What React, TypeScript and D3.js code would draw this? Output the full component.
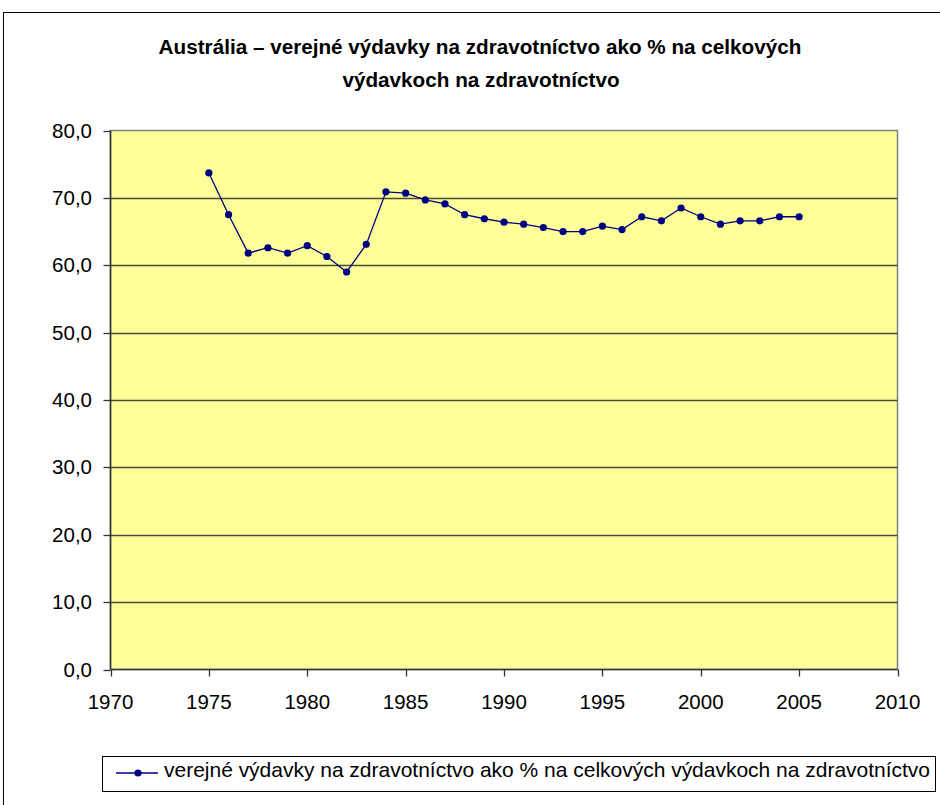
import React from "react";
import * as d3 from "d3";

const years = [1975, 1976, 1977, 1978, 1979, 1980, 1981, 1982, 1983, 1984, 1985, 1986, 1987, 1988, 1989, 1990, 1991, 1992, 1993, 1994, 1995, 1996, 1997, 1998, 1999, 2000, 2001, 2002, 2003, 2004, 2005];
const values = [73.7, 67.5, 61.8, 62.6, 61.8, 62.9, 61.3, 59.0, 63.1, 70.9, 70.7, 69.7, 69.1, 67.5, 66.9, 66.4, 66.1, 65.6, 65.0, 65.0, 65.8, 65.3, 67.2, 66.6, 68.5, 67.2, 66.1, 66.6, 66.6, 67.2, 67.2];
const yTicks = [0, 10, 20, 30, 40, 50, 60, 70, 80];
const xTicks = [1970, 1975, 1980, 1985, 1990, 1995, 2000, 2005, 2010];
const titleLines = ["Austrália – verejné výdavky na zdravotníctvo ako % na celkových", "výdavkoch na zdravotníctvo"];
const seriesName = "verejné výdavky na zdravotníctvo ako % na celkových výdavkoch na zdravotníctvo";

const FONT = "'Liberation Sans', Arial, Helvetica, sans-serif";

export default function App() {
  const left = 110.5, right = 897.5, top = 130.5, bottom = 669.5;
  const x = d3.scaleLinear().domain([1970, 2010]).range([left, right]);
  const y = d3.scaleLinear().domain([0, 80]).range([bottom, top]);
  const fmt = (v: number) => v.toFixed(1).replace(".", ",");
  const line = d3.line<number>().x((_, i) => x(years[i])).y((d) => y(d));
  const pts = values.map((v, i) => ({ cx: x(years[i]), cy: y(v) }));

  return (
    <svg width={940} height={805} style={{ position: "absolute", left: 0, top: 0, background: "#fff" }} fontFamily={FONT}>
      <rect x={0} y={0} width={940} height={805} fill="#fff" />
      {/* outer chart frame */}
      <rect x={3.5} y={12.5} width={960} height={820} fill="none" stroke="#000" strokeWidth={1} />
      {/* title */}
      <text x={480} y={53.5} textAnchor="middle" fontWeight="bold" fontSize={20.7} fill="#000">{titleLines[0]}</text>
      <text x={481} y={86.5} textAnchor="middle" fontWeight="bold" fontSize={20.7} fill="#000">{titleLines[1]}</text>
      {/* plot area */}
      <rect x={left} y={top} width={right - left} height={bottom - top} fill="#FFFF99" stroke="#808080" strokeWidth={1.5} />
      {yTicks.filter((t) => t !== 0 && t !== 80).map((t) => (
        <line key={"g" + t} x1={left} x2={right} y1={Math.round(y(t)) + 0.5} y2={Math.round(y(t)) + 0.5} stroke="#4a4a3a" strokeWidth={1.3} />
      ))}
      {/* axes */}
      <line x1={left} x2={left} y1={top} y2={bottom} stroke="#333" strokeWidth={1.5} />
      <line x1={left} x2={right} y1={bottom} y2={bottom} stroke="#333" strokeWidth={1.5} />
      {yTicks.map((t) => (
        <g key={"y" + t}>
          <line x1={left - 7} x2={left} y1={Math.round(y(t)) + 0.5} y2={Math.round(y(t)) + 0.5} stroke="#333" strokeWidth={1.3} />
          <text x={92} y={y(t) + 7} textAnchor="end" fontSize={20.5} fill="#000">{fmt(t)}</text>
        </g>
      ))}
      {xTicks.map((t) => (
        <g key={"x" + t}>
          <line x1={Math.round(x(t)) + 0.5} x2={Math.round(x(t)) + 0.5} y1={bottom} y2={bottom + 7} stroke="#333" strokeWidth={1.3} />
          <text x={x(t)} y={709} textAnchor="middle" fontSize={20.5} fill="#000">{t}</text>
        </g>
      ))}
      {/* series */}
      <path d={line(values) || ""} fill="none" stroke="#000080" strokeWidth={1.3} />
      {pts.map((p, i) => (
        <circle key={i} cx={p.cx} cy={p.cy} r={3.6} fill="#000080" />
      ))}
      {/* legend */}
      <rect x={102.5} y={756.5} width={833} height={35} fill="#fff" stroke="#000" strokeWidth={1} />
      <line x1={116} x2={158} y1={773} y2={773} stroke="#000080" strokeWidth={1.3} />
      <circle cx={138} cy={773} r={3.6} fill="#000080" />
      <text x={164} y={777} fontSize={21} textLength={766} lengthAdjust="spacing" fill="#000">{seriesName}</text>
    </svg>
  );
}
